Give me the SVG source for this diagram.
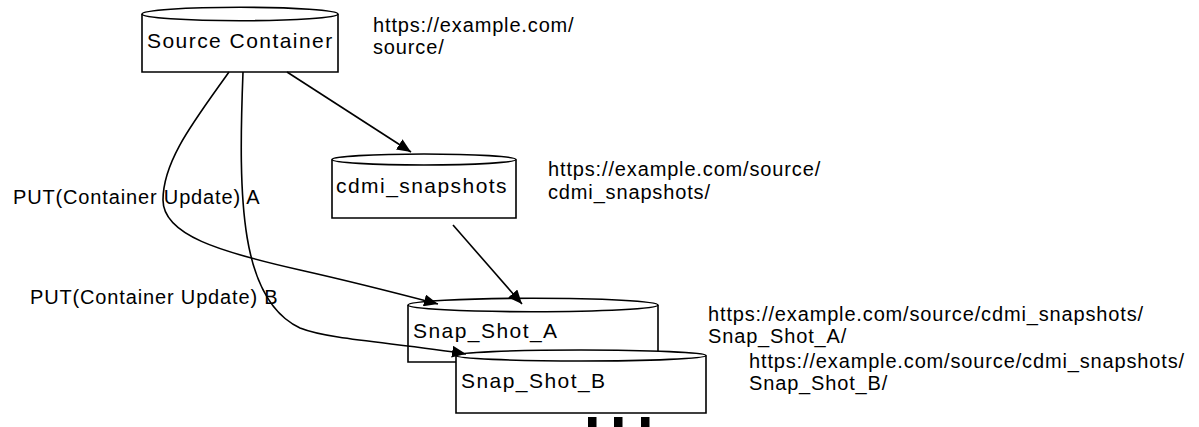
<svg xmlns="http://www.w3.org/2000/svg" width="1199" height="427" viewBox="0 0 1199 427">
<style>
  .cyl { fill: #ffffff; stroke: #000000; stroke-width: 1.6; }
  .node-label { font-family: "Liberation Sans", Arial, sans-serif; font-size: 21px; letter-spacing: 1.45px; fill: #000000; }
  .note { font-family: "Liberation Sans", Arial, sans-serif; font-size: 20px; letter-spacing: 0.85px; fill: #000000; }
  .edge { fill: none; stroke: #000000; stroke-width: 1.6; marker-end: url(#arrow); }
</style>
<defs>
  <marker id="arrow" markerUnits="userSpaceOnUse" markerWidth="16" markerHeight="12" refX="14" refY="6" orient="auto">
    <path d="M0,0 L14,6 L0,12 Z" fill="#000000"/>
  </marker>
</defs>
<rect width="1199" height="427" fill="#ffffff"/>

<g id="node-source-container">
  <path class="cyl" d="M142,14 L142,72 L338,72 L338,14"/>
  <ellipse class="cyl" cx="240" cy="14" rx="98" ry="6.7"/>
  <text class="node-label" x="147" y="48">Source Container</text>
</g>

<g id="node-cdmi-snapshots">
  <path class="cyl" d="M332,159.5 L332,218 L516,218 L516,159.5"/>
  <ellipse class="cyl" cx="424" cy="159.5" rx="92" ry="5.5"/>
  <text class="node-label" x="336" y="193">cdmi_snapshots</text>
</g>

<g id="node-snap-shot-a">
  <path class="cyl" d="M408,305 L408,362 L658,362 L658,305"/>
  <ellipse class="cyl" cx="533" cy="305" rx="125" ry="6.7"/>
  <text class="node-label" x="413" y="338">Snap_Shot_A</text>
</g>

<g id="node-snap-shot-b">
  <path class="cyl" d="M456,355.5 L456,413 L706,413 L706,355.5"/>
  <ellipse class="cyl" cx="581" cy="355.5" rx="125" ry="5.5"/>
  <text class="node-label" x="461" y="388">Snap_Shot_B</text>
</g>

<g id="ellipsis">
  <rect x="588" y="417" width="8.5" height="10" fill="#000000"/>
  <rect x="614" y="417" width="8.5" height="10" fill="#000000"/>
  <rect x="641" y="417" width="8.5" height="10" fill="#000000"/>
</g>

<g id="connectors">
  <path class="edge" d="M287,72 L411,152"/>
  <path class="edge" d="M229,72 C195,120 163,160 163,200 C163,235 220,252 300,270 C340,279 400,294 438,304"/>
  <path class="edge" d="M243,72 C238,200 240,300 300,328 C330,340 400,343 466,354"/>
  <path class="edge" d="M453,225 L522,304"/>
</g>

<g id="labels">
  <text class="note" x="373" y="32">https://example.com/</text>
  <text class="note" x="373" y="54">source/</text>
  <text class="note" x="548" y="176">https://example.com/source/</text>
  <text class="note" x="548" y="199">cdmi_snapshots/</text>
  <text class="note" x="13" y="204">PUT(Container Update) A</text>
  <text class="note" x="30" y="304">PUT(Container Update) B</text>
  <text class="note" x="708" y="321">https://example.com/source/cdmi_snapshots/</text>
  <text class="note" x="708" y="343">Snap_Shot_A/</text>
  <text class="note" x="749" y="368">https://example.com/source/cdmi_snapshots/</text>
  <text class="note" x="749" y="390">Snap_Shot_B/</text>
</g>
</svg>
